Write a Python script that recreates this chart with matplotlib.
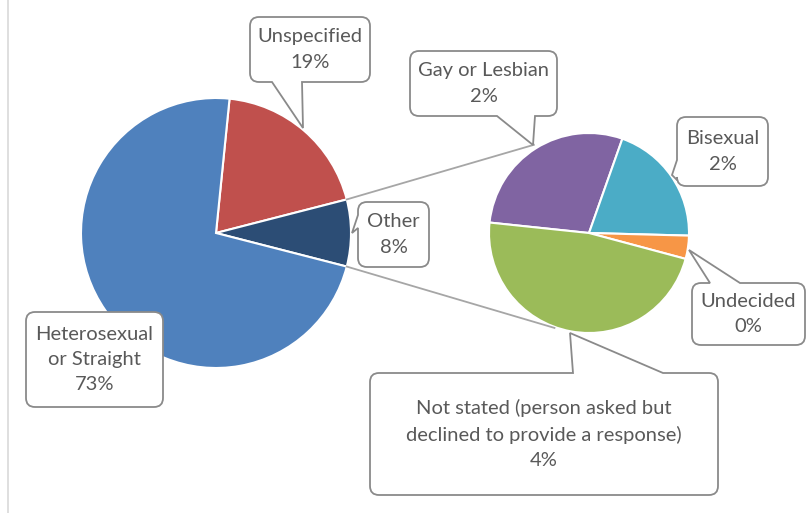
import numpy as np
import matplotlib
matplotlib.use("Agg")
from matplotlib import pyplot as plt
from matplotlib.path import Path
from matplotlib.patches import PathPatch

# data
main_labels = ['Unspecified', 'Other', 'Heterosexual\nor Straight']
main_values = [19.4, 8.0, 72.6]
main_colors = ['#C0504D', '#2C4D75', '#4F81BD']

other_labels = ['Gay or Lesbian', 'Bisexual', 'Undecided',
                'Not stated (person asked but\ndeclined to provide a response)']
other_values = [2.3, 1.6, 0.3, 3.8]
other_colors = ['#8064A2', '#4BACC6', '#F79646', '#9BBB59']

W, H = 806, 513
plt.rcParams['font.family'] = ['Lato', 'DejaVu Sans']
TEXT_COLOR = '#595959'
EDGE_COLOR = '#8a8a8a'


# rounded box with a pointer, coordinates in pixels from top left
def callout(ax, box, text, pointer=None, r=9):
    x0, y0, x1, y1 = box
    L, R, T, B = x0, x1, H - y0, H - y1
    verts, codes = [(L + r, B)], [Path.MOVETO]
    def line(p):
        verts.append(p); codes.append(Path.LINETO)
    def corner(c, p):
        verts.extend([c, p]); codes.extend([Path.CURVE3, Path.CURVE3])
    def ptr(side):
        if pointer and pointer[0] == side:
            for px, py in pointer[1:]:
                line((px, H - py))
    ptr('bottom'); line((R - r, B)); corner((R, B), (R, B + r))
    ptr('right'); line((R, T - r)); corner((R, T), (R - r, T))
    ptr('top'); line((L + r, T)); corner((L, T), (L, T - r))
    ptr('left'); line((L, B + r)); corner((L, B), (L + r, B))
    verts.append((L + r, B)); codes.append(Path.CLOSEPOLY)
    ax.add_patch(PathPatch(Path(verts, codes), facecolor='white',
                           edgecolor=EDGE_COLOR, lw=1.3, zorder=5))
    ax.text((L + R) / 2, (T + B) / 2, text, ha='center', va='center',
            fontsize=14.5, color=TEXT_COLOR, linespacing=1.6, zorder=6)


fig = plt.figure(figsize=(W / 100, H / 100), dpi=100)
ax = fig.add_axes([0, 0, 1, 1])

c1, r1 = (216, H - 233), 135
c2, r2 = (589, H - 233), 100

# main pie, "Other" slice centred on the right
start1 = (main_values[0] + main_values[1] / 2) / sum(main_values) * 360
ax.pie(main_values, colors=main_colors, startangle=start1, counterclock=False,
       center=c1, radius=r1, wedgeprops=dict(edgecolor='white', linewidth=1.5))
ax.pie(other_values, colors=other_colors, startangle=174, counterclock=False,
       center=c2, radius=r2, wedgeprops=dict(edgecolor='white', linewidth=1.5))

# connector lines between the two pies
half = main_values[1] / 2 / sum(main_values) * 2 * np.pi
for a1, a2, rr in [(half, np.radians(122), 104), (-half, np.radians(250), 101)]:
    ax.plot([c1[0] + r1 * np.cos(a1), c2[0] + rr * np.cos(a2)],
            [c1[1] + r1 * np.sin(a1), c2[1] + rr * np.sin(a2)],
            color='#a6a6a6', lw=1.3, zorder=1)

pct1 = [f"{v:.0f}%" for v in main_values]
pct2 = [f"{v:.0f}%" for v in other_values]

callout(ax, (250, 17, 370, 82), f"{main_labels[0]}\n{pct1[0]}",
        ('bottom', (272, 82), (303, 128), (302, 82)))
callout(ax, (358, 202, 429, 267), f"{main_labels[1]}\n{pct1[1]}",
        ('left', (358, 215), (352, 233), (358, 228)))
callout(ax, (26, 312, 163, 407), f"{main_labels[2]}\n{pct1[2]}")
callout(ax, (410, 51, 557, 116), f"{other_labels[0]}\n{pct2[0]}",
        ('bottom', (497, 116), (533, 145), (535, 116)))
callout(ax, (677, 117, 768, 186), f"{other_labels[1]}\n{pct2[1]}",
        ('left', (677, 160), (672, 175), (677, 180)))
callout(ax, (692, 283, 805, 345), f"{other_labels[2]}\n{pct2[2]}",
        ('top', (740, 283), (689, 250), (710, 283)))
callout(ax, (370, 373, 718, 495), f"{other_labels[3]}\n{pct2[3]}",
        ('top', (663, 373), (570, 333), (573, 373)))

# thin frame line on the left
ax.plot([8, 8], [0, H], color='#d9d9d9', lw=1.2)

ax.set_xlim(0, W)
ax.set_ylim(0, H)
ax.set_aspect('auto')
ax.axis('off')
fig.savefig('out.png', dpi=100)
